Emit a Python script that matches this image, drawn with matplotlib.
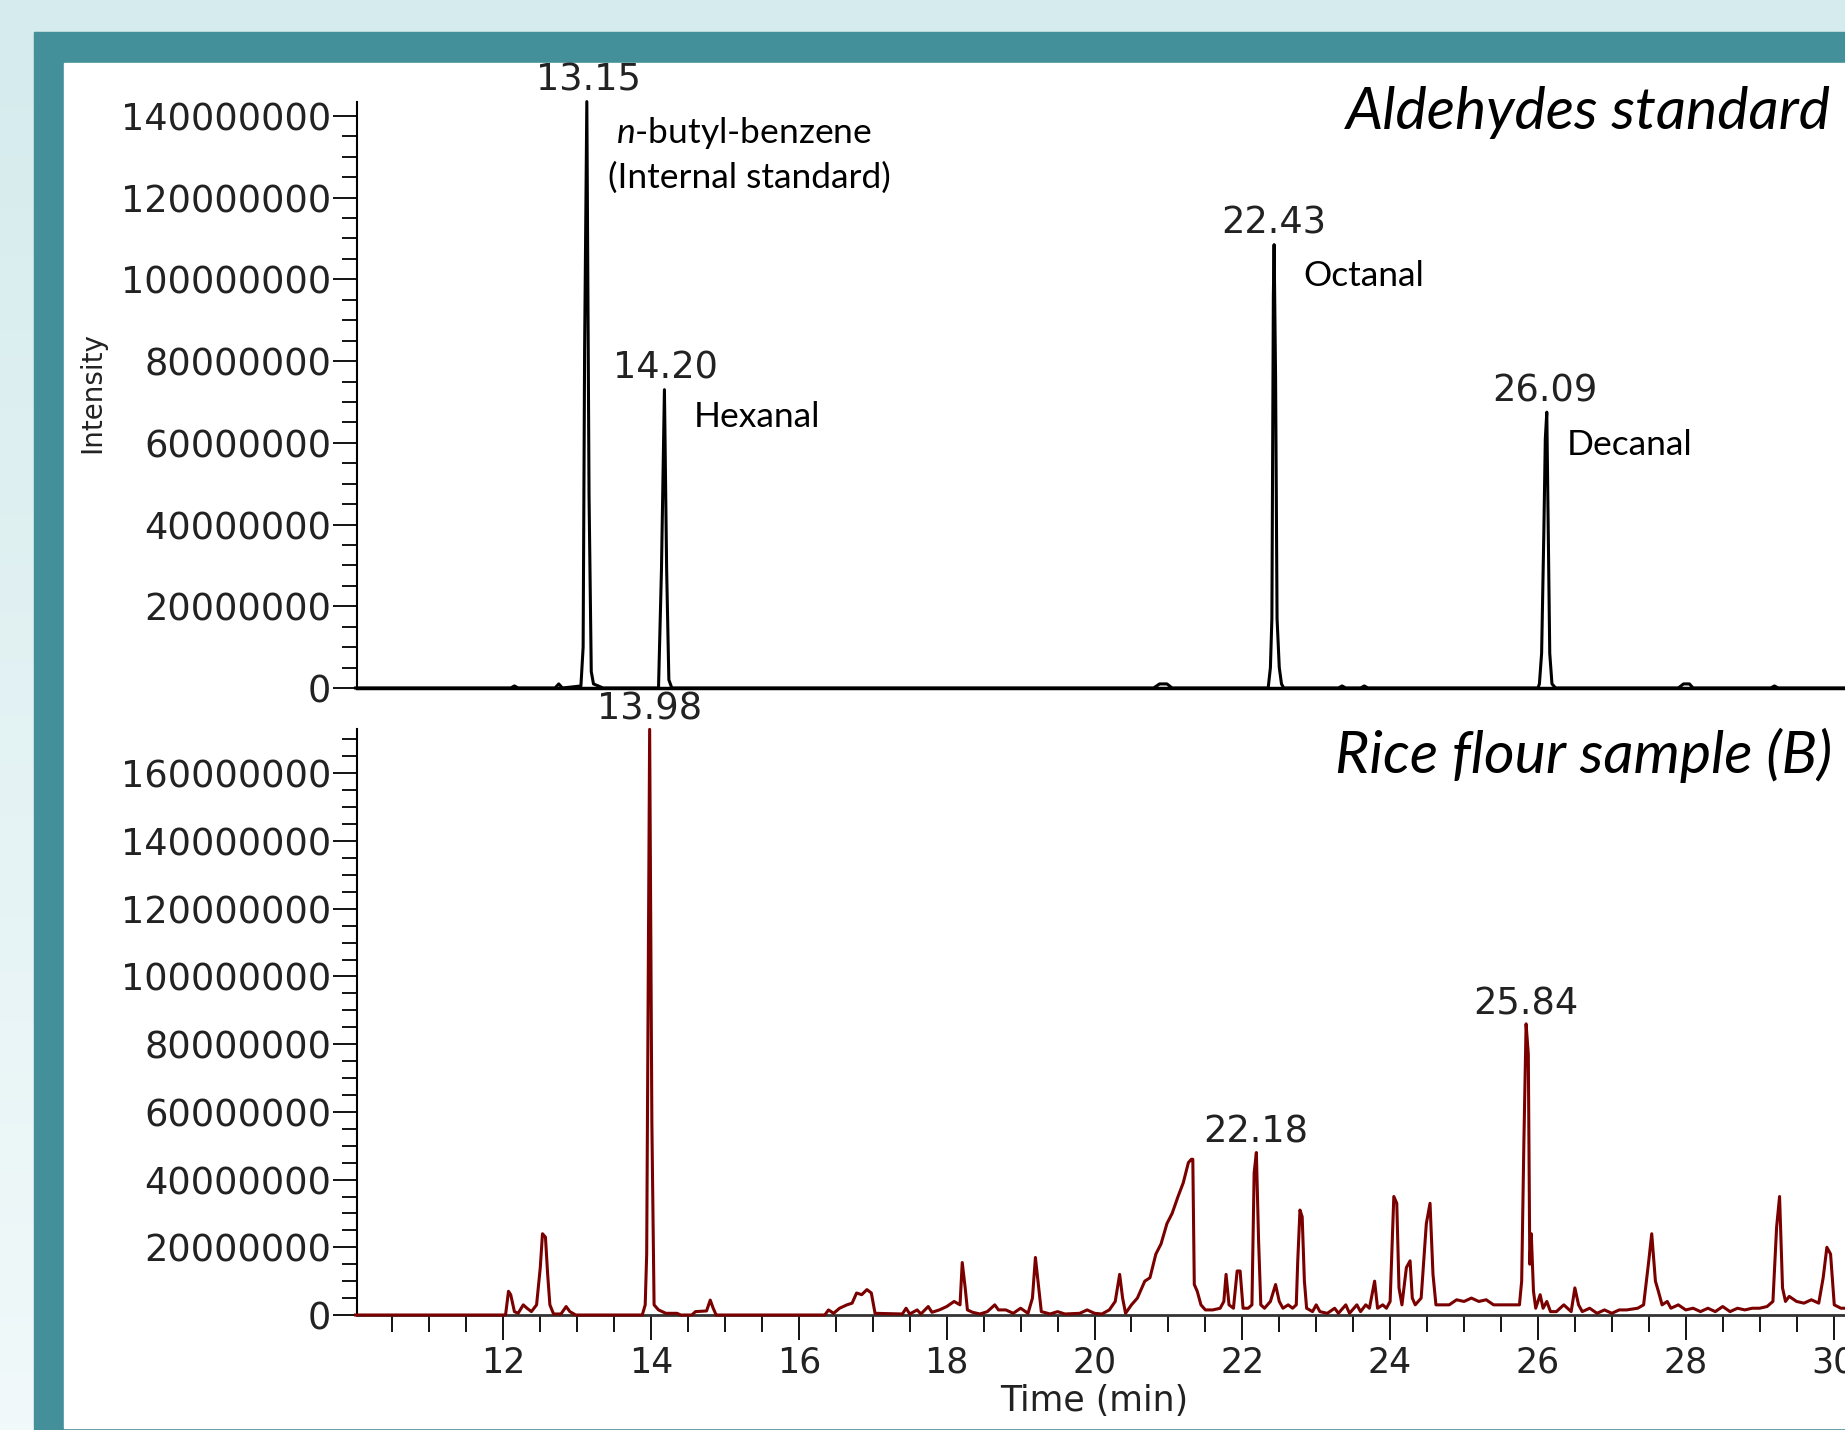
import matplotlib.pyplot as plt
from matplotlib.patches import Rectangle
from matplotlib.colors import LinearSegmentedColormap
from matplotlib.ticker import MultipleLocator, FixedLocator, FixedFormatter
import numpy as np

plt.rcParams['mathtext.fontset'] = 'custom'
plt.rcParams['mathtext.it'] = 'Lato:italic'
plt.rcParams['mathtext.rm'] = 'Lato'

# ---- data (time in min, intensity in millions) ----
std_t = [10.0, 12.10, 12.15, 12.20, 12.70, 12.75, 12.80,
         13.05, 13.08, 13.10, 13.13, 13.16, 13.19, 13.22, 13.35,
         14.10, 14.14, 14.18, 14.21, 14.24, 14.28,
         20.80, 20.88, 20.98, 21.05,
         22.35, 22.38, 22.40, 22.42, 22.43, 22.45, 22.47, 22.50, 22.53, 22.56,
         23.30, 23.35, 23.40, 23.60, 23.65, 23.70,
         26.00, 26.02, 26.05, 26.08, 26.10, 26.12, 26.14, 26.16, 26.19, 26.24,
         27.90, 27.97, 28.05, 28.10, 29.15, 29.20, 29.25, 31.0]
std_i = [0, 0, 0.5, 0, 0, 1.0, 0,
         0.5, 10, 83, 143.5, 47, 4, 1, 0,
         0, 29, 73, 29, 2, 0,
         0, 1.0, 1.0, 0,
         0, 5, 17, 96, 108.5, 76, 17, 5, 1, 0,
         0, 0.5, 0, 0, 0.5, 0,
         0, 1, 8.5, 38, 61, 67.5, 38, 8.5, 1, 0,
         0, 1.0, 1.0, 0, 0, 0.5, 0, 0]

smp_t = [10.0, 12.03, 12.07, 12.10, 12.15, 12.20, 12.27, 12.32, 12.38, 12.45,
         12.50, 12.53, 12.57, 12.60, 12.63, 12.68, 12.78, 12.85, 12.90, 12.98,
         13.88, 13.92, 13.94, 13.96, 13.98, 14.01, 14.04, 14.10, 14.20, 14.35,
         14.40, 14.55, 14.60, 14.75, 14.80, 14.84, 14.88, 16.35, 16.40, 16.47,
         16.55, 16.65, 16.72, 16.78, 16.85, 16.92, 16.98, 17.03, 17.40, 17.45,
         17.50, 17.60, 17.65, 17.75, 17.80, 17.90, 18.00, 18.10, 18.18, 18.21,
         18.25, 18.28, 18.35, 18.45, 18.55, 18.65, 18.70, 18.80, 18.90, 19.00,
         19.10, 19.16, 19.20, 19.24, 19.28, 19.40, 19.50, 19.60, 19.80, 19.90,
         20.00, 20.10, 20.20, 20.28, 20.34, 20.38, 20.42, 20.50, 20.58, 20.68,
         20.75, 20.83, 20.90, 20.98, 21.05, 21.13, 21.20, 21.27, 21.31, 21.33,
         21.35, 21.39, 21.44, 21.50, 21.60, 21.70, 21.75, 21.78, 21.82, 21.88,
         21.93, 21.97, 22.01, 22.08, 22.13, 22.16, 22.19, 22.22, 22.25, 22.30,
         22.38, 22.45, 22.50, 22.55, 22.62, 22.68, 22.73, 22.75, 22.78, 22.81,
         22.84, 22.87, 22.95, 23.00, 23.05, 23.15, 23.25, 23.30, 23.40, 23.45,
         23.55, 23.60, 23.67, 23.72, 23.79, 23.83, 23.90, 23.95, 24.00, 24.05,
         24.09, 24.12, 24.16, 24.22, 24.27, 24.30, 24.34, 24.42, 24.49, 24.54,
         24.58, 24.62, 24.70, 24.80, 24.90, 25.00, 25.10, 25.20, 25.30, 25.40,
         25.50, 25.60, 25.70, 25.75, 25.78, 25.81, 25.84, 25.87, 25.89, 25.91,
         25.94, 25.97, 26.03, 26.07, 26.12, 26.17, 26.25, 26.35, 26.45, 26.50,
         26.55, 26.60, 26.70, 26.80, 26.90, 27.00, 27.10, 27.20, 27.35, 27.43,
         27.50, 27.54, 27.59, 27.63, 27.68, 27.75, 27.80, 27.90, 28.00, 28.10,
         28.20, 28.30, 28.40, 28.50, 28.60, 28.70, 28.80, 28.90, 29.00, 29.10,
         29.18, 29.23, 29.27, 29.31, 29.35, 29.40, 29.50, 29.60, 29.70, 29.80,
         29.86, 29.91, 29.96, 30.01, 30.10, 31.00]
smp_i = [0, 0, 7, 6, 1, 0.5, 3, 2, 1, 3,
         14, 24, 23, 12, 3, 0.3, 0.3, 2.5, 1, 0,
         0, 3, 18, 93, 173, 57, 3, 1.5, 0.5, 0.5,
         0, 0, 1, 1.2, 4.4, 2, 0, 0, 1.5, 0.5,
         2, 3, 3.5, 6.5, 6, 7.5, 6.5, 0.5, 0.3, 2,
         0.3, 1.5, 0.3, 2.5, 0.8, 1.5, 2.5, 4, 3, 15.5,
         8, 1.5, 0.8, 0.3, 1, 3, 1.5, 1.5, 0.5, 2,
         0.5, 5, 17, 9, 1, 0.3, 1, 0.3, 0.5, 1.5,
         0.5, 0.3, 1.5, 4, 12, 5, 0.5, 3, 5, 10,
         11, 18, 21, 27, 30, 35, 39, 45, 46, 46,
         9, 7, 3, 1.5, 1.5, 2, 4, 12, 3, 2,
         13, 13, 2, 2, 3, 42, 48, 22, 3, 2,
         4, 9, 4, 2, 3, 2, 3, 16, 31, 29,
         10, 2, 1, 3, 1, 0.5, 2, 0.5, 3, 0.5,
         3, 1, 3, 2, 10, 2, 3, 2, 4, 35,
         33, 8, 3, 14, 16, 5, 3, 5, 27, 33,
         12, 3, 3, 3, 4.5, 4, 5, 4, 4.5, 3,
         3, 3, 3, 3, 10, 51, 86, 77, 15, 24,
         7, 2, 6, 2, 4, 1, 1, 3, 1, 8,
         3, 1, 2, 0.5, 1.5, 0.5, 1.5, 1.5, 2, 3,
         16, 24, 10, 7, 3, 4, 2, 3, 1.5, 2,
         1, 2, 1, 2.5, 1, 2, 1.5, 2, 2, 2.5,
         4, 26, 35, 8, 4, 5.5, 4, 3.5, 4.5, 3.5,
         11, 20, 18, 3, 2, 2]

std_labels = ['13.15', '14.20', '22.43', '26.09']
std_names = [r'$\mathit{n}$-butyl-benzene', 'Hexanal', 'Octanal', 'Decanal']
smp_labels = ['13.98', '22.18', '25.84']

std_yticks = [0, 20000000, 40000000, 60000000, 80000000, 100000000, 120000000, 140000000]
smp_yticks = [0, 20000000, 40000000, 60000000, 80000000, 100000000, 120000000,
              140000000, 160000000]
x_ticks = [12, 14, 16, 18, 20, 22, 24, 26, 28, 30]

assert len(std_t) == len(std_i) and len(smp_t) == len(smp_i)
std_t, std_i = np.array(std_t), np.array(std_i) * 1e6
smp_t, smp_i = np.array(smp_t), np.array(smp_i) * 1e6

# ---- figure / slide background ----
W, H = 1845, 1430
fig = plt.figure(figsize=(W / 100, H / 100), dpi=100)

bg = fig.add_axes([0, 0, 1, 1], zorder=-10)
cmap = LinearSegmentedColormap.from_list('bg', ['#d5ebed', '#f1f9fa'])
bg.imshow(np.linspace(0, 1, 256).reshape(-1, 1), aspect='auto', cmap=cmap,
          extent=[0, 1, 0, 1], origin='upper')
bg.set_xlim(0, 1)
bg.set_ylim(0, 1)
bg.axis('off')
teal = '#43909a'
fig.add_artist(Rectangle((34 / W, 0), 1, (H - 32) / H, color=teal,
                         transform=fig.transFigure, zorder=-5))
fig.add_artist(Rectangle((64 / W, 2 / H), 1, (1428 - 63) / H, color='white',
                         transform=fig.transFigure, zorder=-4))

# ---- axes ----
x0, x1 = 10.02, 31.0
pxmin = 73.9
axw = (x1 - x0) * pxmin / W
ax1 = fig.add_axes([357 / W, (H - 688) / H, axw, 586 / H])
ax2 = fig.add_axes([357 / W, (H - 1315) / H, axw, 586 / H])

ax1.plot(std_t, std_i, color='black', lw=2.2, clip_on=False, zorder=3)
ax2.plot(smp_t, smp_i, color='#7a0000', lw=2.2, clip_on=False, zorder=3)

ax1.set_ylim(0, 143.4e6)
ax2.set_ylim(0, 173.1e6)

tick_col = '#222222'
for ax, yt in ((ax1, std_yticks), (ax2, smp_yticks)):
    ax.set_xlim(x0, x1)
    ax.set_facecolor('none')
    for s in ('top', 'right'):
        ax.spines[s].set_visible(False)
    ax.spines['left'].set_linewidth(1.5)
    ax.yaxis.set_major_locator(FixedLocator(yt))
    ax.yaxis.set_major_formatter(FixedFormatter([str(v) for v in yt]))
    ax.yaxis.set_minor_locator(MultipleLocator(5000000))
    ax.tick_params(axis='y', which='major', length=17, width=1.3, pad=1.5,
                   labelsize=26.5, labelcolor=tick_col, direction='out')
    ax.tick_params(axis='y', which='minor', length=11, width=1.3, direction='out')

ax1.spines['bottom'].set_linewidth(2.5)
ax1.tick_params(axis='x', which='both', bottom=False, labelbottom=False)

ax2.spines['bottom'].set_linewidth(2.0)
ax2.spines['bottom'].set_color('#333333')
ax2.xaxis.set_major_locator(FixedLocator(x_ticks))
ax2.xaxis.set_major_formatter(FixedFormatter([str(v) for v in x_ticks]))
ax2.xaxis.set_minor_locator(MultipleLocator(0.5))
ax2.tick_params(axis='x', which='major', length=18, width=1.3, pad=4,
                labelsize=25, labelcolor=tick_col, direction='out')
ax2.tick_params(axis='x', which='minor', length=12, width=1.3, direction='out')

ax2.annotate('Time (min)', xy=(20, 0), xycoords=('data', 'axes fraction'),
             xytext=(0, -69), textcoords='offset points', ha='center',
             va='baseline', fontsize=25, color=tick_col, annotation_clip=False)
fig.text(92 / W, 1 - 393 / H, 'Intensity', rotation=90, ha='center', va='center',
         fontsize=20, color=tick_col)

# ---- peak labels ----
def peak_top(t, i, x):
    return i[np.abs(t - x) < 0.08].max()

for lab in std_labels:
    x = float(lab)
    ax1.annotate(lab, xy=(x, peak_top(std_t, std_i, x)), xytext=(0, 8),
                 textcoords='offset points', ha='center', va='baseline',
                 fontsize=26.5, color=tick_col, annotation_clip=False)
for lab in smp_labels:
    x = float(lab)
    ax2.annotate(lab, xy=(x, peak_top(smp_t, smp_i, x)), xytext=(0, 7),
                 textcoords='offset points', ha='center', va='baseline',
                 fontsize=26.5, color=tick_col, annotation_clip=False)

name_offsets = [(112, -30), (20, -27), (21, -30), (16, -31)]
name_ha = ['center', 'left', 'left', 'left']
for lab, name, off, ha in zip(std_labels, std_names, name_offsets, name_ha):
    x = float(lab)
    ax1.annotate(name, xy=(x, peak_top(std_t, std_i, x)), xytext=off,
                 textcoords='offset points', ha=ha, va='baseline',
                 fontsize=25.5, family='Lato', color='black', annotation_clip=False)
ax1.annotate('(Internal standard)', xy=(13.15, peak_top(std_t, std_i, 13.15)),
             xytext=(116, -62), textcoords='offset points', ha='center',
             va='baseline', fontsize=25.5, family='Lato', color='black',
             annotation_clip=False)

fig.text(1831 / W, 1 - 129 / H, 'Aldehydes standard', ha='right', va='baseline',
         fontsize=42.5, family='Lato', style='italic', color='black')
fig.text(1832 / W, 1 - 773 / H, 'Rice flour sample (B)', ha='right', va='baseline',
         fontsize=42.5, family='Lato', style='italic', color='black')

fig.savefig('out.png', dpi=100)
